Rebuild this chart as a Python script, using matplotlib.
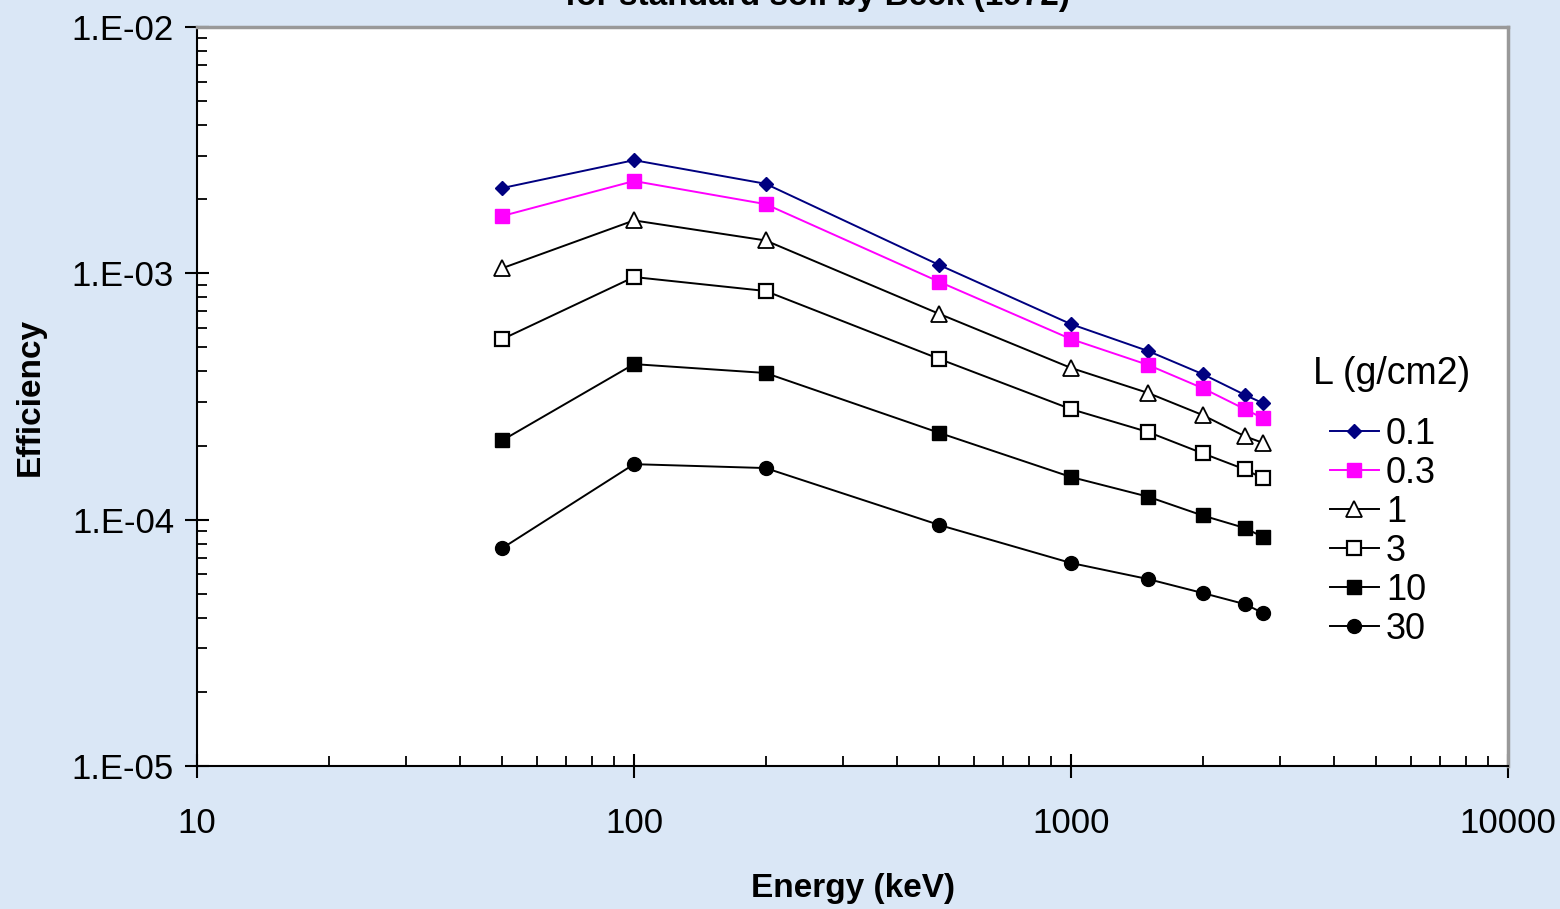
import matplotlib
matplotlib.use("Agg")
import matplotlib.pyplot as plt
from matplotlib.ticker import LogLocator, FixedLocator, FixedFormatter, NullFormatter

plt.rcParams['font.family'] = ['Liberation Sans', 'DejaVu Sans']

energy = [50, 100, 200, 500, 1000, 1500, 2000, 2500, 2750]
labels = ["0.1", "0.3", "1", "3", "10", "30"]
eff_01 = [2.22e-3, 2.88e-3, 2.31e-3, 1.08e-3, 6.22e-4, 4.84e-4, 3.90e-4, 3.21e-4, 2.97e-4]
eff_03 = [1.71e-3, 2.37e-3, 1.91e-3, 9.23e-4, 5.41e-4, 4.25e-4, 3.42e-4, 2.81e-4, 2.58e-4]
eff_1 = [1.05e-3, 1.64e-3, 1.36e-3, 6.84e-4, 4.13e-4, 3.27e-4, 2.66e-4, 2.18e-4, 2.05e-4]
eff_3 = [5.41e-4, 9.66e-4, 8.48e-4, 4.49e-4, 2.81e-4, 2.27e-4, 1.86e-4, 1.60e-4, 1.47e-4]
eff_10 = [2.10e-4, 4.28e-4, 3.94e-4, 2.25e-4, 1.49e-4, 1.24e-4, 1.04e-4, 9.25e-5, 8.50e-5]
eff_30 = [7.67e-5, 1.68e-4, 1.62e-4, 9.51e-5, 6.67e-5, 5.74e-5, 5.04e-5, 4.54e-5, 4.18e-5]
series = [eff_01, eff_03, eff_1, eff_3, eff_10, eff_30]

xticks = [10, 100, 1000, 10000]
xticklabels = ["10", "100", "1000", "10000"]
yticks = [1e-5, 1e-4, 1e-3, 1e-2]
yticklabels = ["1.E-05", "1.E-04", "1.E-03", "1.E-02"]

styles = [
    dict(color="#000080", marker="D", ms=7.5, mfc="#000080", mec="#000080"),
    dict(color="#FF00FF", marker="s", ms=10.5, mfc="#FF00FF", mec="#FF00FF"),
    dict(color="black", marker="^", ms=11, mfc="white", mec="black", mew=1.3),
    dict(color="black", marker="s", ms=10, mfc="white", mec="black", mew=1.6),
    dict(color="black", marker="s", ms=10.5, mfc="black", mec="black"),
    dict(color="black", marker="o", ms=10, mfc="black", mec="black"),
]

bg = "#DAE7F6"
fig = plt.figure(figsize=(15.6, 9.09), dpi=100, facecolor=bg)
ax = fig.add_axes([197/1560, 1-766/909, (1508-197)/1560, (766-27)/909])
ax.set_facecolor("white")

handles = []
for vals, lab, st in zip(series, labels, styles):
    h, = ax.plot(energy, vals, lw=1.4, label=lab, **st)
    handles.append(h)

ax.set_xscale("log")
ax.set_yscale("log")
ax.set_xlim(10, 10000)
ax.set_ylim(1e-5, 1e-2)

ax.xaxis.set_major_locator(FixedLocator(xticks))
ax.xaxis.set_major_formatter(FixedFormatter(xticklabels))
ax.yaxis.set_major_locator(FixedLocator(yticks))
ax.yaxis.set_major_formatter(FixedFormatter(yticklabels))
ax.xaxis.set_minor_locator(LogLocator(base=10, subs=range(2, 10), numticks=20))
ax.yaxis.set_minor_locator(LogLocator(base=10, subs=range(2, 10), numticks=20))
ax.xaxis.set_minor_formatter(NullFormatter())
ax.yaxis.set_minor_formatter(NullFormatter())

ax.tick_params(which="major", direction="inout", length=17, width=1.5, labelsize=25, color="black")
ax.tick_params(axis="x", which="major", pad=21)
ax.tick_params(axis="y", which="major", pad=8)
ax.tick_params(which="minor", direction="in", length=7, width=1.3, color="black")

ax.spines["left"].set_color("black")
ax.spines["bottom"].set_color("black")
ax.spines["left"].set_linewidth(1.5)
ax.spines["bottom"].set_linewidth(1.5)
ax.spines["right"].set_color("#999999")
ax.spines["top"].set_color("#999999")
ax.spines["right"].set_linewidth(2.5)
ax.spines["top"].set_linewidth(2.5)

fig.text(853/1560, 1-888/909, "Energy (keV)", ha="center", va="center", fontsize=24, fontweight="bold")
fig.text(30/1560, 1-397/909, "Efficiency", ha="center", va="center", rotation=90, fontsize=24, fontweight="bold")
fig.text(817/1560, 1-5/909, "for standard soil by Beck (1972)", ha="center", va="baseline", fontsize=24, fontweight="bold")

fig.text(1313/1560, 1-374/909, "L (g/cm2)", ha="left", va="center", fontsize=27)
leg = ax.legend(handles=handles, loc="upper left",
                bbox_to_anchor=((1330-197)/1311, (766-417)/739), frameon=False,
                fontsize=26, handlelength=1.35, handletextpad=0.2,
                labelspacing=0.11, borderaxespad=0, borderpad=0)

fig.savefig("out.png", dpi=100, facecolor=bg)
